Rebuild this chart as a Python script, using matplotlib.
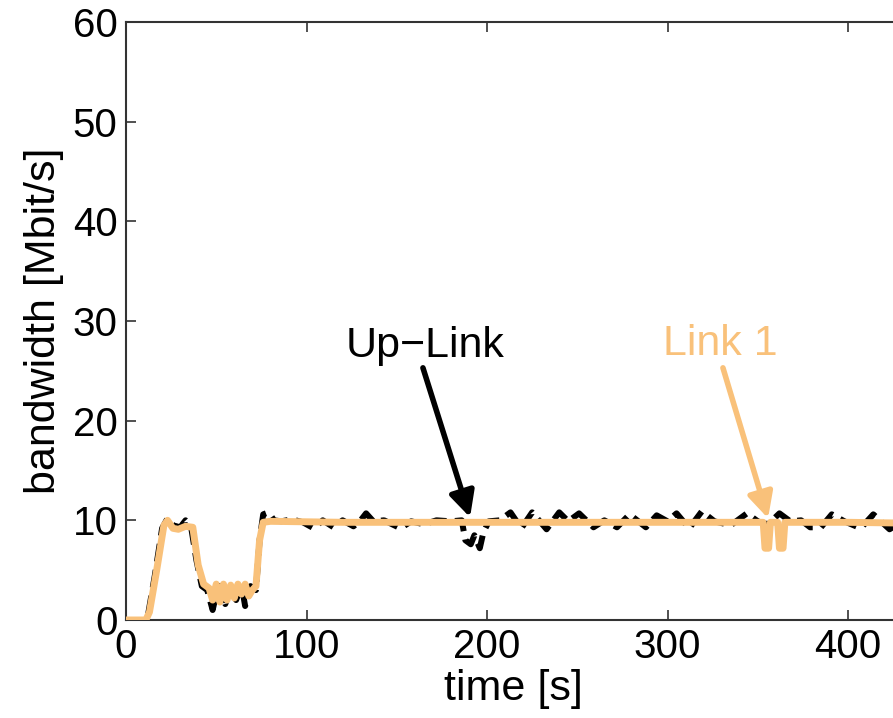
import matplotlib
matplotlib.use('Agg')
import matplotlib.pyplot as plt

# Up-Link (schwarz, gestrichelt)
up_t = [0, 10, 12, 16, 20, 23, 26, 30, 33, 36, 39, 42, 45, 48, 50, 52, 55, 58, 61, 64,
        66, 69, 72, 74, 76, 79, 82, 86, 92, 98, 104, 109, 115, 120, 126, 130, 133, 137,
        143, 152, 158, 165, 172, 180, 186, 188, 191, 193, 196, 198, 201, 207, 213, 219,
        225, 233, 240, 245, 251, 259, 265, 272, 279, 288, 294, 300, 305, 312, 319, 326,
        335, 344, 350, 355, 358, 362, 368, 374, 379, 385, 391, 398, 407, 414, 423, 430, 440]
up_v = [0, 0, 0.3, 4.5, 9.2, 10.2, 9.5, 9.3, 10.0, 9.4, 6.0, 3.4, 3.0, 1.0, 2.6, 3.4, 1.6,
        3.3, 2.0, 3.5, 1.4, 3.4, 3.0, 8.0, 10.6, 10.8, 10.0, 9.9, 10.1, 9.8, 9.2, 10.0, 9.3,
        10.0, 9.4, 10.0, 10.7, 9.9, 10.0, 9.2, 9.9, 9.6, 10.0, 9.9, 10.0, 8.0, 7.6, 8.5,
        7.2, 8.8, 9.9, 10.0, 10.8, 9.2, 10.8, 9.1, 10.8, 9.9, 10.7, 9.3, 10.0, 9.3, 10.6,
        9.3, 10.5, 9.9, 10.7, 9.2, 10.9, 9.9, 9.5, 10.7, 9.9, 9.6, 10.0, 10.7, 9.9, 10.0,
        9.3, 9.3, 10.6, 9.9, 9.2, 10.6, 9.1, 9.9, 10.0]

# Link 1 (orange)
l1_t = [0, 11, 13, 17, 21, 23, 26, 29, 33, 37, 40, 43, 46, 48, 50, 52, 54, 56, 58, 60,
        62, 64, 66, 68, 70, 72, 74, 76, 80, 120, 200, 300, 353, 354, 356, 357, 361, 362,
        364, 365, 400, 440]
l1_v = [0, 0, 0.8, 5, 9.5, 10.0, 9.2, 9.1, 9.4, 9.3, 5.5, 3.6, 3.2, 2.0, 3.6, 1.8, 3.6,
        2.0, 3.5, 2.2, 3.6, 2.6, 3.6, 2.4, 3.0, 3.4, 8.0, 9.8, 9.9, 9.8, 9.8, 9.8, 9.8,
        7.2, 7.2, 9.8, 9.8, 7.2, 7.2, 9.8, 9.8, 9.7]

orange = '#F9C17A'
plt.rcParams['font.family'] = ['Liberation Sans', 'DejaVu Sans']

fig = plt.figure(figsize=(8.93, 7.18), dpi=100)
# Achse ragt rechts ueber den Bildrand hinaus (wie im Original abgeschnitten)
ax = fig.add_axes([0.1411, 0.1365, 0.8894, 0.8329])

ax.plot(up_t, up_v, color='black', lw=4.3, ls=(0, (3, 1.4)), zorder=2)
ax.plot(l1_t, l1_v, color=orange, lw=5, solid_joinstyle='round', zorder=3)

ax.set_xlim(0, 440)
ax.set_ylim(0, 60)
ax.set_xticks([0, 100, 200, 300, 400])
ax.set_yticks([0, 10, 20, 30, 40, 50, 60])
ax.tick_params(direction='in', length=7, width=1.2, top=True, right=True,
               labelsize=29, pad=6, colors='#333333', labelcolor='black')
for s in ax.spines.values():
    s.set_color('#333333')
    s.set_linewidth(1.5)

ax.set_xlabel('time [s]', fontsize=31)
ax.xaxis.set_label_coords(387 / 794.2, -0.082)
ax.set_ylabel('bandwidth [Mbit/s]', fontsize=31, labelpad=6)

# Beschriftungen mit Pfeilen
ax.text(165.6, 26.4, 'Up\u2212Link', fontsize=31, ha='center', va='baseline', color='black')
ax.annotate('', xy=(190.6, 10.3), xytext=(164.5, 25.3),
            arrowprops=dict(arrowstyle='-|>', lw=4, color='black', mutation_scale=38,
                            shrinkA=0, shrinkB=0))
ax.text(329, 26.6, 'Link 1', fontsize=31, ha='center', va='baseline', color=orange)
ax.annotate('', xy=(355.7, 10.2), xytext=(330.7, 25.3),
            arrowprops=dict(arrowstyle='-|>', lw=4, color=orange, mutation_scale=38,
                            shrinkA=0, shrinkB=0))

fig.savefig('out.png', dpi=100)
